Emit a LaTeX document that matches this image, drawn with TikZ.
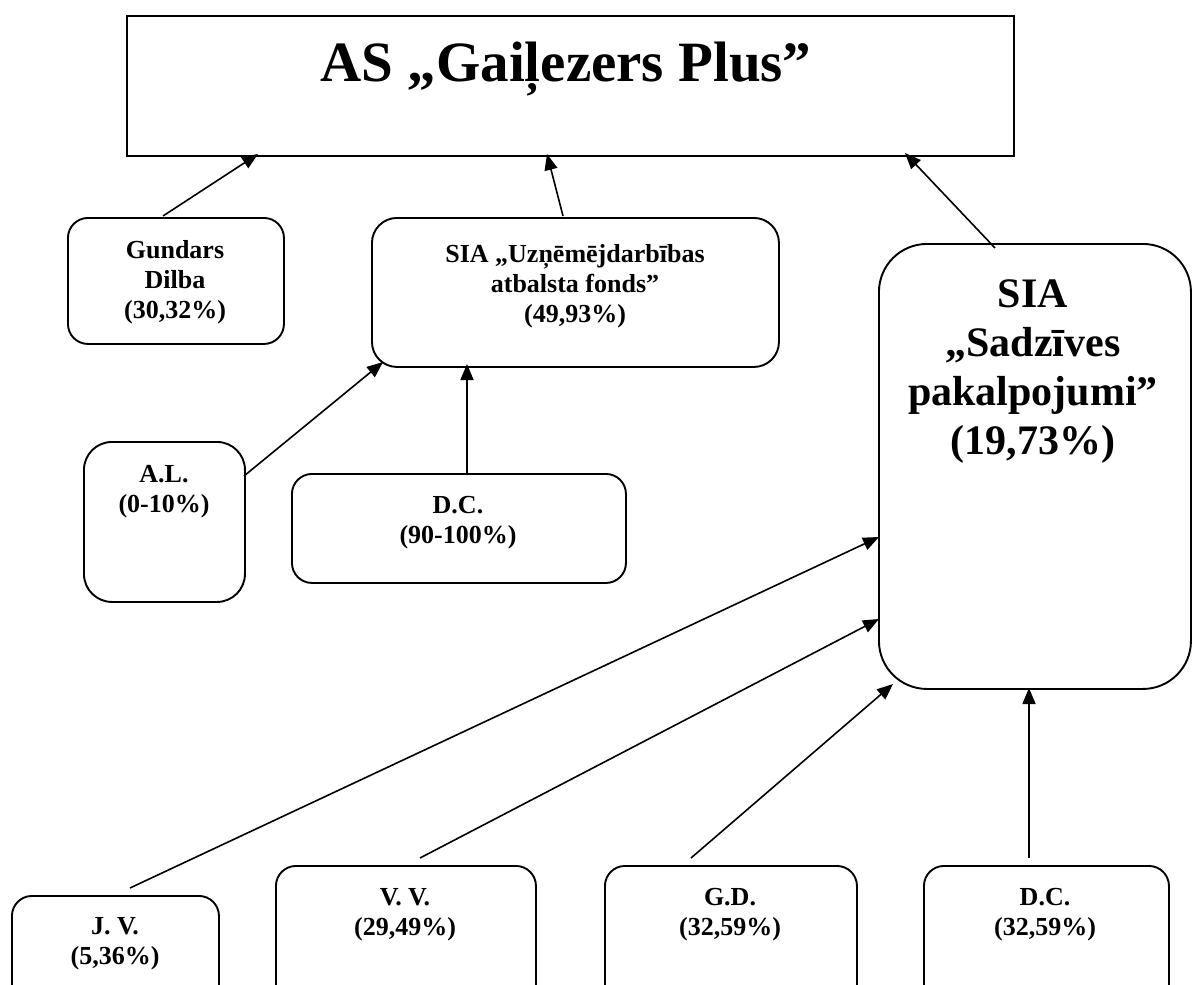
\documentclass[tikz,border=0pt]{standalone}
\usepackage{fontspec}
\setmainfont{Liberation Serif}
\usetikzlibrary{arrows.meta}
\newcommand{\mlines}[1]{\begin{tabular}[t]{@{}c@{}}#1\end{tabular}}
\begin{document}
\begin{tikzpicture}[x=1pt,y=-1pt,
  box/.style={draw,line width=1.9pt,rounded corners=20pt,inner sep=0pt,anchor=north west},
  lbl/.style={anchor=base,inner sep=0pt,font=\bfseries\fontsize{26}{30}\selectfont},
  big/.style={anchor=base,inner sep=0pt,font=\bfseries\fontsize{42}{49}\selectfont},
  conn/.style={line width=1.6pt,-{Triangle[length=16pt,width=13pt]}}]
\clip (0,0) rectangle (1192,985);
\fill[white] (0,0) rectangle (1192,985);
% top box
\node[draw,line width=1.7pt,minimum width=887pt,minimum height=140pt,anchor=north west,inner sep=0pt] (top) at (126,15) {};
\node[anchor=base,inner sep=0pt,font=\bfseries\fontsize{57}{60}\selectfont] (title) at (566,81) {AS „Gaiļezers Plus”};
% boxes
\node[box,minimum width=216pt,minimum height=126pt] (gb) at (67,217) {};
\node[box,rounded corners=25pt,minimum width=407pt,minimum height=149pt] (ub) at (371,217) {};
\node[box,rounded corners=28pt,minimum width=161pt,minimum height=160pt] (alb) at (83,441) {};
\node[box,minimum width=334pt,minimum height=109pt] (dcb) at (291,473) {};
\node[box,rounded corners=48pt,minimum width=312pt,minimum height=445pt] (sb) at (878,243) {};
\node[box,minimum width=207pt,minimum height=110pt] (jvb) at (11,895) {};
\node[box,minimum width=260pt,minimum height=140pt] (vvb) at (275,865) {};
\node[box,minimum width=252pt,minimum height=140pt] (gdb) at (604,865) {};
\node[box,minimum width=245pt,minimum height=140pt] (dclb) at (923,865) {};
% texts
\node[lbl] (gt) at (175,258) {\mlines{Gundars\\Dilba\\(30,32\%)}};
\node[lbl] (ut) at (575,262) {\mlines{SIA „Uzņēmējdarbības\\atbalsta fonds”\\(49,93\%)}};
\node[lbl] (alt) at (164,482) {\mlines{A.L.\\(0-10\%)}};
\node[lbl] (dct) at (458,513) {\mlines{D.C.\\(90-100\%)}};
\node[big] (st) at (1033,307) {\mlines{SIA\\„Sadzīves\\pakalpojumi”\\(19,73\%)}};
\node[lbl] (jvt) at (115,934) {\mlines{J. V.\\(5,36\%)}};
\node[lbl] (vvt) at (405,905) {\mlines{V. V.\\(29,49\%)}};
\node[lbl] (gdt) at (730,905) {\mlines{G.D.\\(32,59\%)}};
\node[lbl] (dclt) at (1045,905) {\mlines{D.C.\\(32,59\%)}};
% connector ends
\coordinate (g1) at (163,216);  \coordinate (g2) at (258,154);
\coordinate (u1) at (563,216);  \coordinate (u2) at (547,154);
\coordinate (s1) at (995,248);  \coordinate (s2) at (905,153);
\coordinate (a1) at (244,476);  \coordinate (a2) at (383,362);
\coordinate (d1) at (467,473);  \coordinate (d2) at (467,364);
\coordinate (j1) at (130,888);  \coordinate (j2) at (879,537);
\coordinate (v1) at (420,858);  \coordinate (v2) at (879,619);
\coordinate (gd1) at (691,858); \coordinate (gd2) at (893,684);
\coordinate (dc1) at (1029,858); \coordinate (dc2) at (1029,688);
\draw[conn] (g1) -- (g2);
\draw[conn] (u1) -- (u2);
\draw[conn] (s1) -- (s2);
\draw[conn] (a1) -- (a2);
\draw[conn] (d1) -- (d2);
\draw[conn] (j1) -- (j2);
\draw[conn] (v1) -- (v2);
\draw[conn] (gd1) -- (gd2);
\draw[conn] (dc1) -- (dc2);
\end{tikzpicture}
\end{document}
